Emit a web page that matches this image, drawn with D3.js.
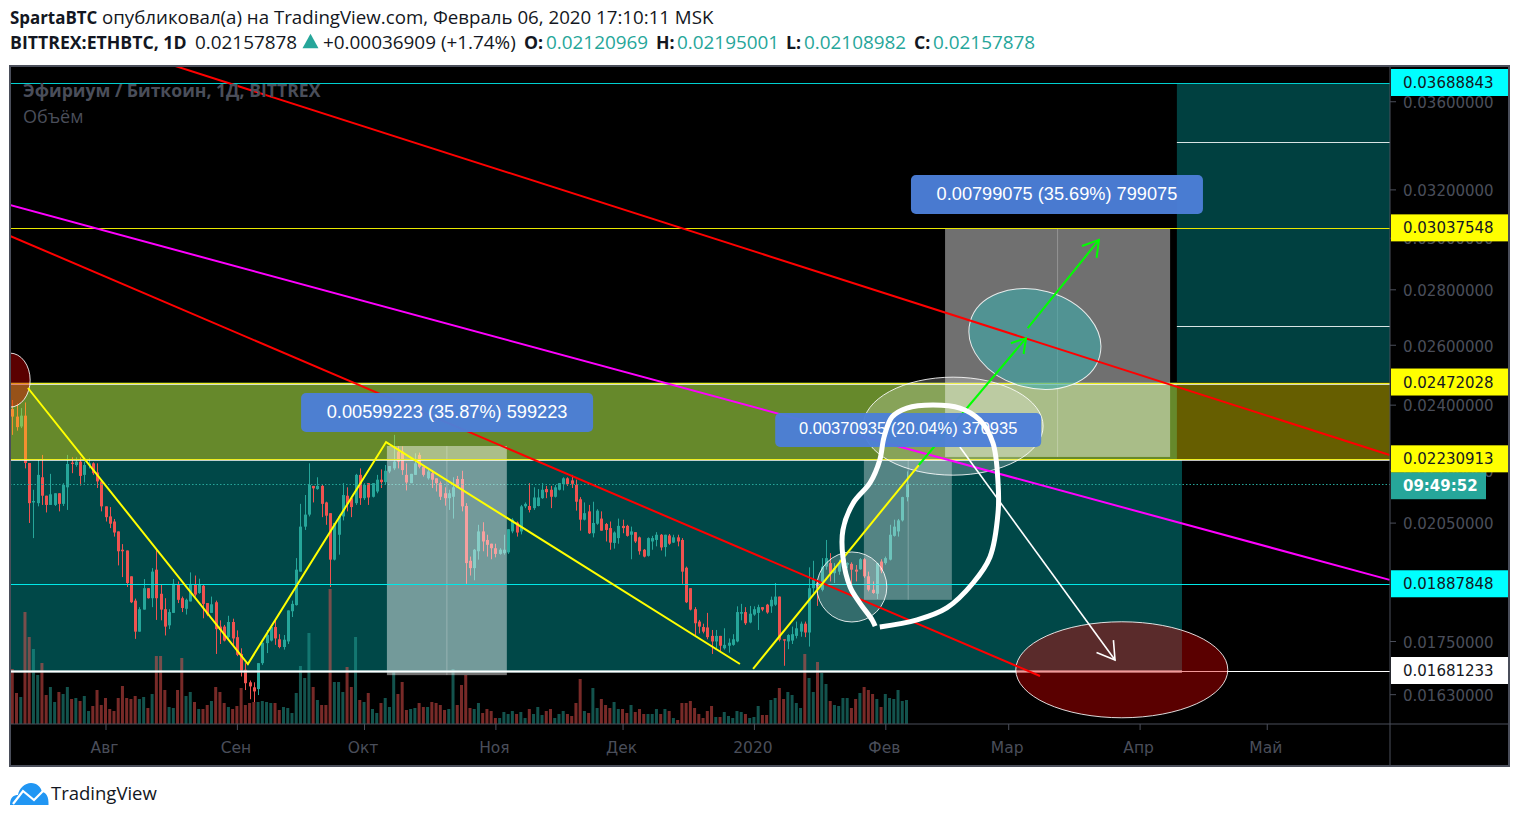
<!DOCTYPE html>
<html><head><meta charset="utf-8">
<script src="https://cdn.jsdelivr.net/npm/d3@7"></script>
<style>html,body{margin:0;padding:0;background:#fff;overflow:hidden}svg{display:block}</style>
</head><body><svg id="c" width="1519" height="821"></svg>
<script>
// All OHLC prices are in units of 0.00001 BTC
const unit = 1e-5;
const firstDay = Date.UTC(2019, 6, 10);
const opens = [
2386,2362,2331,2365,2220,2106,2104,2178,2125,2099,
2099,2132,2102,2149,2221,2214,2224,2185,2214,2219,
2192,2166,2095,2067,2053,2026,1977,1975,1908,1847,
1772,1825,1878,1853,1925,1864,1826,1787,1817,1887,
1853,1827,1845,1888,1866,1884,1841,1817,1843,1784,
1784,1759,1795,1759,1720,1684,1656,1645,1641,1699,
1745,1751,1783,1754,1736,1749,1821,1836,1920,2039,
2072,2153,2144,2153,2106,2076,1951,2017,2067,2125,
2118,2104,2185,2118,2161,2122,2137,2171,2164,2195,
2204,2254,2254,2185,2161,2185,2244,2209,2175,2190,
2175,2161,2132,2118,2122,2173,2173,2096,1948,1929,
1973,2026,2003,1993,1981,1966,1968,1970,2026,2050,
2026,2095,2096,2090,2096,2118,2144,2142,2122,2142,
2158,2175,2169,2156,2115,2058,2081,2021,2047,2061,
2046,2035,1995,2008,2041,2041,2017,2024,2010,1977,
1961,1999,2003,2017,1984,2015,1996,2010,2003,1930,
1878,1826,1796,1783,1782,1762,1749,1762,1733,1739,
1741,1749,1815,1819,1794,1813,1817,1831,1837,1833,
1837,1857,1754,1749,1751,1762,1772,1791,1770,1878,
1891,1874,1933,1942,1916,1920,1938,1938,1940,1925,
1926,1952,1908,1874,1864,1946,1942,1951,2014,2026,
2056,2121];
const highs = [
2415,2404,2389,2407,2220,2142,2229,2244,2125,2188,
2132,2132,2161,2244,2237,2237,2237,2224,2234,2222,
2219,2171,2095,2093,2060,2026,1992,1975,1908,1852,
1831,1901,1878,1929,1977,1887,1853,1826,1901,1895,
1857,1852,1918,1910,1902,1887,1841,1857,1847,1799,
1788,1810,1803,1775,1733,1699,1660,1656,1699,1746,
1776,1783,1800,1766,1764,1823,1847,1955,2102,2127,
2219,2153,2178,2156,2108,2076,2049,2072,2161,2149,
2118,2188,2204,2161,2161,2161,2185,2201,2214,2211,
2305,2270,2270,2219,2188,2249,2251,2209,2204,2199,
2175,2166,2149,2142,2178,2182,2197,2104,1959,1979,
2044,2051,2017,1993,1993,1981,2017,2032,2062,2053,
2099,2106,2161,2149,2144,2161,2153,2153,2156,2161,
2178,2178,2185,2171,2121,2106,2099,2108,2087,2081,
2049,2053,2026,2061,2058,2044,2039,2024,2012,1979,
2010,2014,2024,2019,2017,2019,2017,2017,2008,1933,
1878,1831,1800,1791,1817,1776,1776,1762,1780,1756,
1766,1833,1839,1831,1834,1833,1837,1831,1839,1857,
1891,1857,1754,1766,1784,1796,1796,1796,1931,1948,
1899,1955,2003,1968,1942,1951,1952,1944,1944,1937,
1955,1955,1920,1895,1942,1952,1959,2044,2058,2060,
2122,2195];
const lows = [
2305,2318,2326,2204,2049,2008,2095,2099,2078,2099,
2096,2081,2096,2085,2190,2209,2154,2163,2204,2185,
2147,2081,2053,2035,2012,1936,1906,1881,1841,1755,
1772,1825,1852,1831,1800,1799,1763,1778,1817,1841,
1819,1813,1845,1857,1864,1804,1809,1817,1720,1743,
1749,1753,1741,1715,1669,1639,1619,1613,1628,1695,
1722,1749,1741,1733,1730,1743,1807,1835,1920,2030,
2067,2106,2142,2065,2044,1881,1949,1964,2056,2081,
2065,2099,2099,2113,2099,2120,2132,2147,2156,2190,
2199,2204,2185,2140,2161,2185,2204,2180,2171,2147,
2137,2113,2097,2085,2061,2147,2081,1889,1910,1898,
1951,1973,1959,1952,1957,1964,1964,1966,2021,2012,
2018,2090,2078,2085,2095,2116,2118,2090,2120,2140,
2140,2153,2147,2083,2028,2056,2019,2010,2044,2028,
1999,1977,1980,1993,2021,2012,1952,1995,1964,1957,
1959,1977,1986,1975,1959,1990,1995,1986,1889,1841,
1823,1764,1768,1768,1754,1720,1733,1726,1730,1723,
1739,1747,1799,1788,1792,1810,1776,1821,1815,1817,
1834,1749,1693,1731,1743,1756,1760,1759,1737,1866,
1834,1870,1925,1895,1891,1912,1933,1929,1889,1895,
1925,1904,1870,1864,1851,1916,1938,1949,2012,2012,
2053,2109];
const closes = [
2362,2329,2365,2220,2104,2110,2185,2125,2099,2129,
2132,2102,2156,2217,2217,2224,2182,2214,2219,2190,
2166,2095,2065,2047,2023,1973,1973,1891,1843,1772,
1826,1878,1853,1920,1853,1825,1784,1819,1889,1849,
1829,1849,1888,1862,1888,1839,1813,1838,1778,1776,
1751,1795,1756,1718,1682,1654,1647,1636,1699,1746,
1764,1783,1756,1736,1753,1823,1839,1925,2039,2072,
2156,2146,2153,2102,2069,1951,2049,2067,2127,2102,
2093,2185,2118,2156,2120,2161,2171,2164,2197,2211,
2224,2224,2199,2163,2188,2219,2209,2185,2195,2171,
2161,2122,2118,2132,2149,2149,2095,1942,1929,1977,
2026,1999,1990,1981,1966,1977,1977,2032,2058,2023,
2095,2102,2085,2120,2120,2142,2135,2122,2149,2161,
2175,2158,2159,2108,2058,2076,2021,2049,2083,2028,
2030,1996,2023,2041,2035,2014,2026,1999,1973,1959,
2008,2008,2017,1983,2017,1993,2010,1999,1920,1843,
1825,1792,1784,1772,1759,1749,1762,1739,1741,1746,
1754,1819,1819,1792,1815,1826,1831,1825,1818,1849,
1857,1753,1751,1764,1766,1780,1791,1770,1878,1899,
1883,1933,1955,1916,1929,1942,1951,1942,1925,1920,
1952,1908,1874,1866,1942,1923,1955,2017,2039,2056,
2121,2158];
const volumes = [
55,31,27,112,87,75,49,61,29,37,
22,32,30,37,25,26,23,28,13,18,
34,19,26,15,13,26,38,26,25,28,
25,27,16,30,68,68,34,17,16,34,
66,28,32,22,15,15,19,23,37,32,
21,17,15,18,36,19,21,22,22,23,
22,21,21,14,17,16,11,31,58,46,
91,37,24,19,19,135,42,42,32,57,
37,87,24,22,31,15,11,21,26,17,
52,30,42,14,15,16,21,17,17,22,
21,19,14,15,55,19,39,49,16,15,
21,11,15,13,6,6,12,10,13,10,
12,6,15,10,17,9,13,15,6,10,
13,10,8,21,45,13,11,36,16,25,
19,16,22,15,15,11,19,12,15,10,
10,10,15,10,15,13,6,4,21,21,
23,16,10,6,13,18,7,7,12,8,
6,13,12,10,6,7,18,9,9,24,
26,36,25,32,29,21,16,70,46,32,
62,51,40,23,19,18,26,26,16,25,
31,37,34,30,25,17,30,26,25,34,
23,24];

const monthTickDates = [[2019,7],[2019,8],[2019,9],[2019,10],[2019,11],[2020,0],[2020,1],[2020,2],[2020,3],[2020,4]];
const monthTickLabels = ["Авг","Сен","Окт","Ноя","Дек","2020","Фев","Мар","Апр","Май"];
const priceTicks = [0.036,0.032,0.03,0.028,0.026,0.024,0.022,0.0205,0.0175,0.0163];
const levelPrices = {cyanTop:0.03688843, yellowTop:0.03037548, zoneTop:0.02472028, zoneBottom:0.02230913, cyanLow:0.01887848, whiteLow:0.01681233};
const lastClose = 0.02157878;
const priceLabels = [
  ["0.03688843", levelPrices.cyanTop, "#00ffff"],
  ["0.03037548", levelPrices.yellowTop, "#ffff00"],
  ["0.02472028", levelPrices.zoneTop, "#ffff00"],
  ["0.02230913", levelPrices.zoneBottom, "#ffff00"],
  ["0.01887848", levelPrices.cyanLow, "#00ffff"],
  ["0.01681233", levelPrices.whiteLow, "#ffffff"]];
// Drawn annotations as [day offset from firstDay, price in units]
const redLineA = [[38.4,3774],[325,2244]];
const redLineB = [[-0.5,3007],[242.5,1670]];
const magentaLine = [[-0.5,3134],[325,1899]];
const yellowWave = [[3.7,2454],[55.6,1697],[88.2,2283],[171.7,1697]];
const yellowRise = [[174.8,1686],[213.9,2214]];
const greenA = [[213.9,2214],[239.2,2623]];
const greenB = [[239.6,2658],[256.4,2991]];
const whiteArrow = [[223.6,2268],[260.2,1706]];
const freehand = [[203.6,1785],[202.9,1800],[200,1841],[197.7,1881],[196,1958],[196,2030],[198.4,2104],[202.4,2162],[204.7,2229],[205.7,2298],[207.6,2361],[211.1,2389],[217.2,2399],[223.6,2389],[228.3,2351],[231.4,2280],[232.6,2162],[232.6,2077],[230.7,1958],[226.7,1891],[220.5,1829],[213.5,1800],[204.7,1783]];
const measureBoxes = [[220.1,273.2,3037.548,2238,246.65],[88.4,116.7,2271,1672,102.55],[200.95,221.7,2230.913,1849,211.4]];
const measureLabels = [
  ["0.00799075 (35.69%) 799075",246.5,3178,292,39,18.2],
  ["0.00599223 (35.87%) 599223",102.6,2375,292,39,18.2],
  ["0.00370935 (20.04%) 370935",211.4,2320,266,34,16.5]];
const fibPrices = [3409,2666];
const ellipses = [
  {d:-0.5,p:2480,rx:20,ry:27,rot:0,fill:"rgba(225,0,0,0.4)"},
  {d:261.8,p:1684,rx:106,ry:48,rot:0,fill:"rgba(225,0,0,0.4)"},
  {d:241.3,p:2620,rx:67,ry:49,rot:15,fill:"rgba(60,170,170,0.6)"},
  {d:222,p:2332,rx:90,ry:49,rot:0,fill:"rgba(255,255,255,0.22)"},
  {d:198.1,p:1881,rx:35,ry:35,rot:0,fill:"rgba(255,255,255,0.2)"}];

const DAY = 86400000;
const dayDate = d => new Date(firstDay + d*DAY);
const L = 10, R = 1509, T = 66, B = 766, AX = 1390, PB = 724;
const x = d3.scaleUtc().domain([Date.UTC(2019,7,1), Date.UTC(2020,1,6)]).range([105.5,906.5]);
const y = d3.scaleLog().domain([levelPrices.cyanTop, levelPrices.whiteLow]).range([83,671]);
const yVol = d3.scaleLinear().domain([0,135]).range([PB,PB-135]);
const X = d => x(dayDate(d));
const Y = p => y(p*unit);
const snap = v => Math.round(v)+0.5;

const svg = d3.select("#c");
const sans = "'Open Sans',sans-serif";
const up="#26a69a", down="#ef5350";

svg.append("defs").append("clipPath").attr("id","pane").append("rect")
  .attr("x",L+1).attr("y",T+1).attr("width",AX-L-1).attr("height",PB-T-1);

// frame background
svg.append("rect").attr("x",L).attr("y",T).attr("width",R-L).attr("height",B-T).attr("fill","#000");

const p = svg.append("g").attr("clip-path","url(#pane)");
const rect = (g,x0,x1,y0,y1,fill) => g.append("rect").attr("x",x0).attr("width",x1-x0).attr("y",y0).attr("height",y1-y0).attr("fill",fill);

// long/short position backgrounds
rect(p, L, X(274.8), Y(2472.028), y(levelPrices.zoneBottom), "#004848");
rect(p, L, X(276), y(levelPrices.zoneBottom), y(levelPrices.whiteLow), "#004848");
rect(p, X(274.8), AX, y(levelPrices.cyanTop), y(levelPrices.zoneTop), "#004040");

// volume
const candles = opens.map((o,i)=>({i,o,h:highs[i],l:lows[i],c:closes[i],v:volumes[i]}));
p.append("g").selectAll("rect").data(candles).join("rect")
  .attr("x",d=>X(d.i)-1.5).attr("width",3)
  .attr("y",d=>yVol(d.v)).attr("height",d=>yVol(0)-yVol(d.v))
  .attr("fill",d=>d.c>=d.o?up:down).attr("opacity",0.5);

// candles
const cg = p.append("g");
cg.selectAll("line").data(candles).join("line")
  .attr("x1",d=>Math.round(X(d.i))+0.5).attr("x2",d=>Math.round(X(d.i))+0.5)
  .attr("y1",d=>Y(d.h)).attr("y2",d=>Y(d.l))
  .attr("stroke",d=>d.c>=d.o?up:down).attr("stroke-width",1);
cg.selectAll("rect").data(candles).join("rect")
  .attr("x",d=>Math.round(X(d.i))-1).attr("width",3)
  .attr("y",d=>Math.min(Y(d.o),Y(d.c)))
  .attr("height",d=>Math.max(1,Math.abs(Y(d.o)-Y(d.c))))
  .attr("fill",d=>d.c>=d.o?up:down);

// dashed last-price line
p.append("line").attr("x1",L).attr("x2",AX).attr("y1",snap(y(lastClose))).attr("y2",snap(y(lastClose)))
  .attr("stroke",up).attr("stroke-dasharray","1.5 2").attr("stroke-width",1);

// resistance zone
rect(p, L, AX, y(levelPrices.zoneTop), y(levelPrices.zoneBottom), "rgba(255,235,0,0.4)");

// measure tools
const mg = p.append("g");
measureBoxes.forEach((b,k)=>{
  const op=[0.44,0.45,0.33][k];
  rect(mg, X(b[0]), X(b[1]), Y(b[2]), Y(b[3]), `rgba(255,255,255,${op})`);
  mg.append("line").attr("x1",X(b[4])).attr("x2",X(b[4])).attr("y1",Y(b[2])).attr("y2",Y(b[3]))
    .attr("stroke","rgba(255,255,255,0.25)");
});

// horizontal levels
const hline = (pr,col,w,x0=L,x1=AX)=>p.append("line").attr("x1",x0).attr("x2",x1).attr("y1",snap(y(pr))).attr("y2",snap(y(pr))).attr("stroke",col).attr("stroke-width",w);
hline(levelPrices.cyanTop,"#00d0d0",1);
hline(levelPrices.yellowTop,"#e8e800",1);
hline(levelPrices.cyanLow,"#00e8e8",1);
hline(levelPrices.whiteLow,"rgba(215,232,232,0.7)",3,L,X(276));
hline(levelPrices.whiteLow,"#fff",1);
fibPrices.forEach(v=>hline(v*unit,"#d8e4e4",1,X(274.8),AX));
hline(levelPrices.zoneTop,"#fff",1,X(274.8),AX);
[levelPrices.zoneTop,levelPrices.zoneBottom].forEach(v=>{
  p.append("line").attr("x1",L).attr("x2",AX).attr("y1",snap(y(v))+1).attr("y2",snap(y(v))+1).attr("stroke","rgba(255,255,255,0.75)").attr("stroke-width",1);
  hline(v,"#eeee20",1);
});

// ellipses
ellipses.forEach(e=>{
  p.append("ellipse").attr("cx",0).attr("cy",0).attr("rx",e.rx).attr("ry",e.ry)
    .attr("transform",`translate(${X(e.d)},${Y(e.p)}) rotate(${e.rot})`)
    .attr("fill",e.fill).attr("stroke","rgba(255,255,255,0.85)").attr("stroke-width",1);
});

// lines
const lg = d3.line().x(d=>X(d[0])).y(d=>Y(d[1]));
const path = (pts,col,w)=>p.append("path").attr("d",lg(pts)).attr("fill","none").attr("stroke",col).attr("stroke-width",w).attr("stroke-linejoin","miter");
path(redLineA,"#ff0000",2);
path(redLineB,"#ff0000",2);
path(magentaLine,"#ff00ff",2);
path(yellowWave,"#ffff00",2);
path(yellowRise,"#ffff00",2);
const arrow=(pts,col,w,s)=>{
  path(pts,col,w);
  const a=pts[pts.length-1], b=pts[pts.length-2];
  const xa=X(a[0]),ya=Y(a[1]),ang=Math.atan2(Y(b[1])-ya,X(b[0])-xa);
  const tip=[-0.55,0.55].map(t=>[xa+s*Math.cos(ang+t),ya+s*Math.sin(ang+t)]);
  p.append("path").attr("d",d3.line()([tip[0],[xa,ya],tip[1]])).attr("fill","none").attr("stroke",col).attr("stroke-width",w);
};
arrow(greenA,"#00ff00",2,16);
arrow(greenB,"#00ff00",2,18);
arrow(whiteArrow,"#ffffff",1.6,20);

// measure labels
measureLabels.forEach(m=>{
  const cx=X(m[1]), cy=Y(m[2]);
  p.append("rect").attr("x",cx-m[3]/2).attr("y",cy-m[4]/2).attr("width",m[3]).attr("height",m[4]).attr("rx",5)
    .attr("fill","rgba(76,127,217,0.96)");
  p.append("text").attr("x",cx).attr("y",cy+0.36*m[5]-1.5).attr("text-anchor","middle")
    .attr("font-family","'Liberation Sans',sans-serif").attr("font-size",m[5]).attr("fill","#fff").text(m[0]);
});

// freehand
p.append("path").attr("d",d3.line().x(d=>X(d[0])).y(d=>Y(d[1])).curve(d3.curveCatmullRom)(freehand))
  .attr("fill","none").attr("stroke","#fff").attr("stroke-width",5).attr("stroke-linecap","butt").attr("stroke-linejoin","round");

// pane captions
svg.append("text").attr("x",23).attr("y",97).attr("font-family",sans).attr("font-weight",700).attr("font-size",17.6).attr("fill","#4a4e5a").text("Эфириум / Биткоин, 1Д, BITTREX");
svg.append("text").attr("x",23).attr("y",123).attr("font-family",sans).attr("font-size",18).attr("fill","#4a4e5a").text("Объём");

// axes
const axisCol="#4a4e5a", axisFont="'DejaVu Sans',sans-serif";
const yAxis = d3.axisRight(y).tickValues(priceTicks).tickFormat(d3.format(".8f")).tickSize(6).tickPadding(7);
const ya = svg.append("g").attr("transform",`translate(${AX},0)`).call(yAxis);
ya.select(".domain").remove();
ya.selectAll("line").attr("stroke",axisCol);
ya.selectAll("text").attr("fill",axisCol).attr("font-family",axisFont).attr("font-size",15).attr("dy","0.42em");
const xAxis = d3.axisBottom(x).tickValues(monthTickDates.map(d=>new Date(Date.UTC(d[0],d[1],1)))).tickFormat((d,i)=>monthTickLabels[i]).tickSize(6).tickPadding(7);
const xa = svg.append("g").attr("transform",`translate(0,${PB})`).call(xAxis);
xa.select(".domain").remove();
xa.selectAll("line").attr("stroke",axisCol);
xa.selectAll("text").attr("fill",axisCol).attr("font-family",axisFont).attr("font-size",15.5).attr("dy","1.05em").attr("dx",-1.5);

// dividers and frame
svg.append("line").attr("x1",L).attr("x2",R).attr("y1",PB).attr("y2",PB).attr("stroke",axisCol);
svg.append("line").attr("x1",AX).attr("x2",AX).attr("y1",T).attr("y2",B).attr("stroke",axisCol);
svg.append("rect").attr("x",L).attr("y",T).attr("width",R-L).attr("height",B-T).attr("fill","none").attr("stroke",axisCol).attr("stroke-width",2);

// last-price countdown and price labels
const lab = svg.append("g");
lab.append("rect").attr("x",AX+1).attr("y",y(lastClose)-12).attr("width",95).attr("height",27).attr("fill",up);
lab.append("text").attr("x",AX+13).attr("y",y(lastClose)+7).attr("font-family",axisFont).attr("font-weight",700).attr("font-size",15).attr("fill","#fff").text("09:49:52");
priceLabels.forEach(l=>{
  lab.append("rect").attr("x",AX+1).attr("y",y(l[1])-14).attr("width",R-AX-2).attr("height",27).attr("fill",l[2]);
  lab.append("text").attr("x",AX+13).attr("y",y(l[1])+5).attr("font-family",axisFont).attr("font-size",15).attr("fill","#131722").text(l[0]);
});

// header
const hdr=(tx,px,py,o={})=>svg.append("text").attr("x",px).attr("y",py).attr("font-family",sans)
  .attr("font-size",o.s||(o.b?17.7:18.9)).attr("font-weight",o.b?700:400).attr("fill",o.c||"#131722").text(tx);
const headerTop = "опубликовал(а) на TradingView.com, Февраль 06, 2020 17:10:11 MSK";
hdr("SpartaBTC",10,24,{b:1,s:16.9}); hdr(headerTop,102,24,{s:18.7});
hdr("BITTREX:ETHBTC, 1D",10,49,{b:1});
hdr("0.02157878",195,49);
svg.append("path").attr("d",d3.symbol(d3.symbolTriangle,110)()).attr("transform","translate(310.5,43.5) scale(1,1.05)").attr("fill",up);
hdr("+0.00036909 (+1.74%)",323,49);
const ohlcLabels=["O:","H:","L:","C:"], ohlcValues=["0.02120969","0.02195001","0.02108982","0.02157878"];
[[524,546],[656,677],[786,804],[914,933]].forEach((q,i)=>{hdr(ohlcLabels[i],q[0],49,{b:1});hdr(ohlcValues[i],q[1],49,{c:up});});

// logo
const logo=svg.append("g").attr("transform","translate(10,783)");
logo.append("path").attr("d","M0 22 C0 14 4 12 8 12 C9 5 15 0 21 0 C27 0 31 4 32 9 C36 9 39 14 38.5 22 Z").attr("fill","#2196f3");
logo.append("path").attr("d","M3 21 L13 8 L24 17 L33 8").attr("fill","none").attr("stroke","#fff").attr("stroke-width",2.2);
svg.append("text").attr("x",51).attr("y",800).attr("font-family",sans).attr("font-size",18.5).attr("fill","#131722").text("TradingView");
</script></body></html>
